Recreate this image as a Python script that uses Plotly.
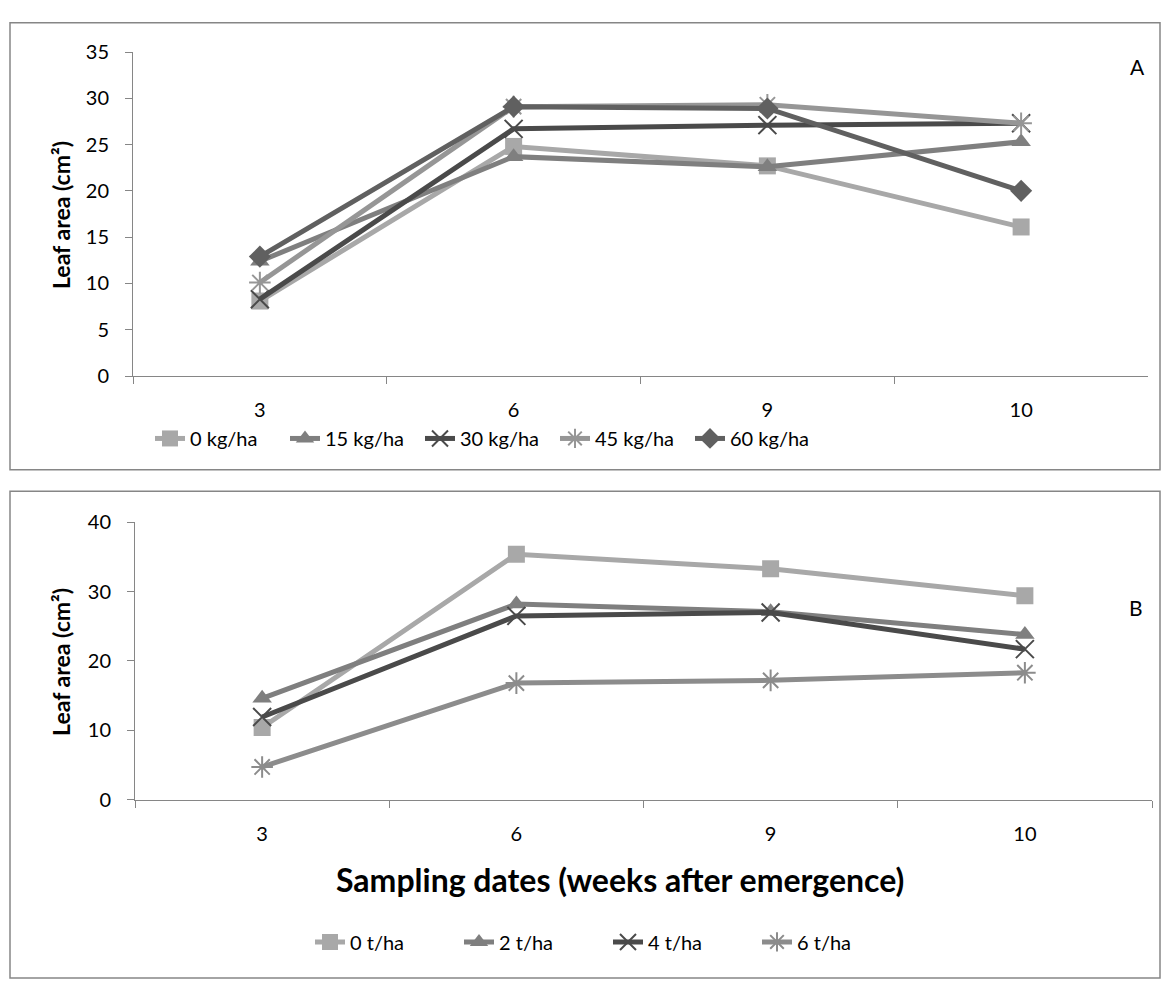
import plotly.graph_objects as go

# Sampling dates (weeks after emergence)
weeks = ["3", "6", "9", "10"]

# Panel A: leaf area under nitrogen rates (kg/ha)
kg_names = ["0 kg/ha", "15 kg/ha", "30 kg/ha", "45 kg/ha", "60 kg/ha"]
kg_0 = [8.1, 24.8, 22.7, 16.1]
kg_15 = [12.4, 23.7, 22.6, 25.3]
kg_30 = [8.3, 26.7, 27.1, 27.3]
kg_45 = [10.1, 29.1, 29.3, 27.3]
kg_60 = [12.9, 29.1, 28.9, 20.0]

# Panel B: leaf area under manure rates (t/ha)
t_names = ["0 t/ha", "2 t/ha", "4 t/ha", "6 t/ha"]
t_0 = [10.4, 35.4, 33.3, 29.4]
t_2 = [14.6, 28.2, 27.1, 23.8]
t_4 = [11.9, 26.5, 27.0, 21.7]
t_6 = [4.7, 16.8, 17.2, 18.3]

W, H = 1171, 992
FONT = "Lato"
AXIS_GREY = "#868686"


def px_x(x):
    return x / W


def px_y(y):
    return 1 - y / H


# marker style per series: (symbol, colour, size)
styles_a = [
    ("square", "#A8A8A8", 17),
    ("triangle-up", "#7F7F7F", 17),
    ("x-thin", "#4A4A4A", 18),
    ("asterisk", "#969696", 18),
    ("diamond", "#606060", 17),
]
styles_b = [
    ("square", "#A8A8A8", 17),
    ("triangle-up", "#7F7F7F", 17),
    ("x-thin", "#4A4A4A", 18),
    ("asterisk", "#8C8C8C", 18),
]


def add_series(fig, names, values, styles, xa, ya, legend):
    for name, vals, (sym, col, size) in zip(names, values, styles):
        thin = sym in ("x-thin", "asterisk")
        fig.add_trace(go.Scatter(
            x=weeks, y=vals, name=name, mode="lines+markers",
            xaxis=xa, yaxis=ya, legend=legend,
            line=dict(color=col, width=5),
            marker=dict(symbol=sym, size=size, color=col,
                        line=dict(color=col, width=2 if thin else 0)),
        ))


fig = go.Figure()
add_series(fig, kg_names, [kg_0, kg_15, kg_30, kg_45, kg_60], styles_a, "x", "y", "legend")
add_series(fig, t_names, [t_0, t_2, t_4, t_6], styles_b, "x2", "y2", "legend2")

xcommon = dict(
    type="category", range=[-0.5, 3.5], tickson="boundaries",
    ticks="outside", ticklen=7, tickcolor=AXIS_GREY, ticklabelstandoff=16,
    showline=True, linecolor=AXIS_GREY, linewidth=1,
    showgrid=False, zeroline=False,
    tickfont=dict(family=FONT, size=20, color="#000000"),
)
ycommon = dict(
    ticks="outside", ticklen=7, tickcolor=AXIS_GREY, ticklabelstandoff=12,
    showline=True, linecolor=AXIS_GREY, linewidth=1,
    showgrid=False, zeroline=False,
    tickfont=dict(family=FONT, size=20, color="#000000"),
)


def label(text, x, y, size, angle=0, bold=False):
    return dict(text=f"<b>{text}</b>" if bold else text, textangle=angle,
                xref="paper", yref="paper", x=px_x(x), y=px_y(y),
                xanchor="center", yanchor="middle", showarrow=False,
                font=dict(family=FONT, size=size, color="#000000"))


fig.update_layout(
    width=W, height=H,
    margin=dict(l=0, r=0, t=0, b=0),
    paper_bgcolor="white", plot_bgcolor="white",
    font=dict(family=FONT, size=20, color="#000000"),
    xaxis=dict(xcommon, domain=[px_x(133), px_x(1148)], anchor="y"),
    yaxis=dict(ycommon, domain=[px_y(372), px_y(40)], range=[0, 35], dtick=5, anchor="x"),
    xaxis2=dict(xcommon, domain=[px_x(135), px_x(1152)], anchor="y2"),
    yaxis2=dict(ycommon, domain=[px_y(806), px_y(522)], range=[0, 40], dtick=10, anchor="x2"),
    legend=dict(orientation="h", x=px_x(150), xanchor="left", y=px_y(436), yanchor="middle",
                font=dict(family=FONT, size=20), entrywidth=90, itemwidth=30,
                bgcolor="rgba(0,0,0,0)"),
    legend2=dict(orientation="h", x=px_x(310), xanchor="left", y=px_y(952), yanchor="middle",
                 font=dict(family=FONT, size=20), entrywidth=104, itemwidth=30,
                 bgcolor="rgba(0,0,0,0)"),
    shapes=[
        dict(type="rect", xref="paper", yref="paper",
             x0=px_x(10), x1=px_x(1160), y0=px_y(468), y1=px_y(10),
             line=dict(color=AXIS_GREY, width=1.5)),
        dict(type="rect", xref="paper", yref="paper",
             x0=px_x(10), x1=px_x(1160), y0=px_y(989), y1=px_y(490),
             line=dict(color=AXIS_GREY, width=1.5)),
    ],
    annotations=[
        label("Leaf area (cm²)", 61, 207, 23, angle=-90, bold=True),
        label("Leaf area (cm²)", 61, 665, 23, angle=-90, bold=True),
        label("Sampling dates (weeks after emergence)", 620, 888, 32, bold=True),
        label("A", 1137, 55, 21),
        label("B", 1136, 609, 21),
    ],
)

fig.write_html("out.html")
